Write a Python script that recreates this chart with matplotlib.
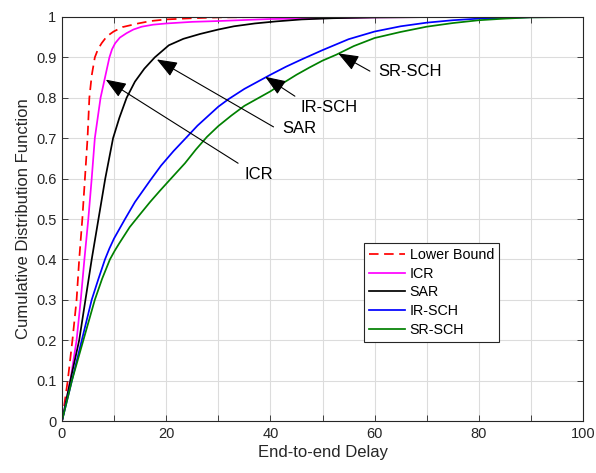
import matplotlib
matplotlib.use("Agg")
import matplotlib.pyplot as plt

plt.rcParams['font.family'] = ['Liberation Sans', 'DejaVu Sans']

# ---- data ----
lb_x = [0, 1.1, 2.0, 2.8, 3.3, 3.9, 4.4, 4.9, 5.25, 5.7, 6.3, 6.9, 7.6, 8.6, 9.9, 11.6, 14.6, 17, 20, 25, 30, 40, 73]
lb_y = [0, 0.1, 0.2, 0.3, 0.4, 0.5, 0.6, 0.7, 0.8, 0.855, 0.9, 0.92, 0.935, 0.952, 0.964, 0.975, 0.984, 0.99, 0.994, 0.997, 0.999, 1.0, 1.0]

icr_x = [0, 1.6, 2.8, 3.6, 4.3, 5.05, 5.7, 6.3, 6.85, 7.4, 8.25, 9.1, 9.6, 10.2, 11.1, 12.4, 13.7, 15.3, 17.5, 20, 25, 30, 40, 50, 60, 73]
icr_y = [0, 0.1, 0.2, 0.3, 0.4, 0.5, 0.6, 0.7, 0.75, 0.8, 0.85, 0.9, 0.92, 0.935, 0.949, 0.96, 0.969, 0.976, 0.981, 0.984, 0.988, 0.99, 0.995, 0.997, 0.999, 1.0]

sar_x = [0, 1.6, 3.3, 4.5, 5.7, 7.0, 8.3, 9.8, 11.0, 12.4, 14.0, 15.8, 17.8, 20.5, 23.3, 26.5, 30, 33, 37, 41, 46, 52, 60, 73]
sar_y = [0, 0.1, 0.2, 0.3, 0.4, 0.5, 0.6, 0.7, 0.75, 0.8, 0.84, 0.872, 0.9, 0.93, 0.946, 0.958, 0.969, 0.977, 0.984, 0.989, 0.994, 0.997, 0.999, 1.0]

ir_x = [0, 1.9, 3.8, 4.75, 5.7, 7.0, 8.25, 9.1, 10, 12.1, 14, 16.9, 19, 21.4, 23.6, 26, 30, 32, 35, 40, 43, 46, 50, 55, 60, 65, 70, 75, 80, 85, 90, 100]
ir_y = [0, 0.1, 0.2, 0.25, 0.3, 0.352, 0.4, 0.427, 0.452, 0.5, 0.542, 0.595, 0.632, 0.668, 0.698, 0.731, 0.778, 0.797, 0.822, 0.857, 0.877, 0.895, 0.918, 0.945, 0.964, 0.977, 0.986, 0.992, 0.996, 0.998, 0.9995, 1.0]

sr_x = [0, 1.9, 4.1, 5.2, 6.3, 7.7, 9.2, 10.1, 11, 13, 15, 16.9, 18.8, 20.7, 23.6, 25.7, 27.8, 30, 32.5, 35, 40, 42.5, 45, 47.5, 50, 52.7, 56, 60, 65, 70, 75, 80, 85, 90, 100]
sr_y = [0, 0.1, 0.2, 0.25, 0.3, 0.352, 0.4, 0.421, 0.44, 0.48, 0.512, 0.542, 0.57, 0.597, 0.638, 0.672, 0.703, 0.73, 0.756, 0.78, 0.816, 0.837, 0.857, 0.875, 0.892, 0.907, 0.928, 0.948, 0.963, 0.976, 0.985, 0.992, 0.996, 0.999, 1.0]

x_ticks = list(range(0, 101, 10))
x_ticklabels = [str(v) if v % 20 == 0 else '' for v in x_ticks]
y_ticks = [i / 10 for i in range(11)]
y_ticklabels = ['0', '0.1', '0.2', '0.3', '0.4', '0.5', '0.6', '0.7', '0.8', '0.9', '1']

# annotations: label, arrow tip (x, y), tail (x, y), text position (x, y)
ann_labels = ['ICR', 'SAR', 'IR-SCH', 'SR-SCH']
ann_tips = [(8.4, 0.845), (18.2, 0.895), (39.0, 0.852), (53.0, 0.91)]
ann_tails = [(33.8, 0.638), (40.6, 0.728), (44.7, 0.804), (59.1, 0.866)]
ann_text = [(35.1, 0.609), (42.2, 0.723), (45.7, 0.777), (60.7, 0.864)]

fig = plt.figure(figsize=(5.96, 4.73), dpi=100)
ax = fig.add_axes([62 / 596, 52 / 473, 521 / 596, 404 / 473])

lw = 1.25
ax.plot(lb_x, lb_y, color=(1, 0, 0), ls=(0, (5.5, 3.2)), lw=lw, label='Lower Bound')
ax.plot(icr_x, icr_y, color=(1, 0, 1), lw=lw, label='ICR')
ax.plot(sar_x, sar_y, color='black', lw=lw, label='SAR')
ax.plot(ir_x, ir_y, color=(0, 0, 1), lw=lw, label='IR-SCH')
ax.plot(sr_x, sr_y, color=(0, 0.5, 0), lw=lw, label='SR-SCH')

for lab, tip, tail, tpos in zip(ann_labels, ann_tips, ann_tails, ann_text):
    ax.annotate('', xy=tip, xytext=tail,
                arrowprops=dict(arrowstyle='-|>,head_length=0.9,head_width=0.35',
                                color='black', lw=0.8, shrinkA=0, shrinkB=0,
                                mutation_scale=14))
    ax.text(tpos[0], tpos[1], lab, fontsize=12, ha='left', va='center')

ax.set_xlim(0, 100)
ax.set_ylim(0, 1.0)
ax.set_xticks(x_ticks)
ax.set_xticklabels(x_ticklabels)
ax.set_yticks(y_ticks)
ax.set_yticklabels(y_ticklabels)
ax.tick_params(direction='in', top=True, right=True, length=4, width=0.6,
               labelsize=10.5, colors='#262626', pad=4)
ax.grid(True, color='#dcdcdc', lw=0.8)
ax.set_axisbelow(True)
for s in ax.spines.values():
    s.set_color('#262626')
    s.set_linewidth(0.8)

ax.set_xlabel('End-to-end Delay', fontsize=12, color='#262626', labelpad=3)
ax.set_ylabel('Cumulative Distribution Function', fontsize=12, color='#262626', labelpad=4)

leg = ax.legend(loc='upper left', bbox_to_anchor=((364 - 62) / 521, (421 - 243) / 404),
                borderaxespad=0, fontsize=10.3, fancybox=False, framealpha=1,
                edgecolor='#262626', handlelength=2.5, handletextpad=0.35,
                labelspacing=0.33, borderpad=0.35)
leg.get_frame().set_linewidth(0.8)

fig.savefig('out.png', dpi=100)
